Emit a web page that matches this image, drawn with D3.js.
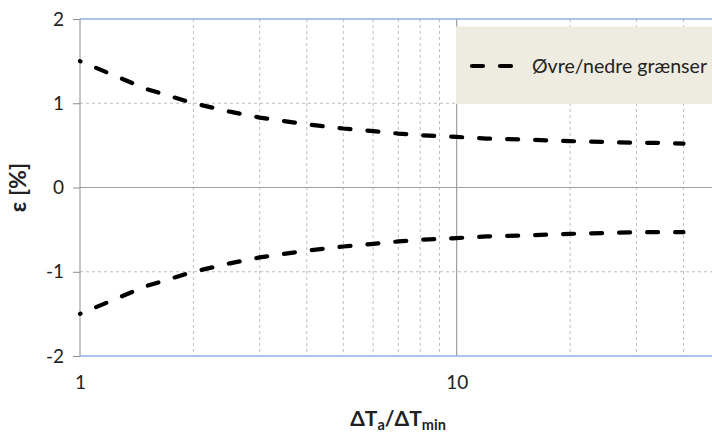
<!DOCTYPE html>
<html><head><meta charset="utf-8">
<script src="https://cdn.jsdelivr.net/npm/d3@7"></script>
<style>body{margin:0;background:#fff}svg{display:block;font-family:Lato,"Open Sans",sans-serif}</style>
</head><body>
<svg id="c" width="712" height="436"></svg>
<script>
const xValues = [1, 1.5, 2, 2.5, 3, 4, 5, 6, 7, 8, 9, 10, 12, 15, 20, 25, 30, 35, 40];
const upper = [1.50, 1.17, 1.00, 0.90, 0.83, 0.75, 0.70, 0.67, 0.64, 0.62, 0.61, 0.60, 0.58, 0.57, 0.55, 0.54, 0.53, 0.53, 0.52];
const lower = [-1.50, -1.17, -1.00, -0.90, -0.83, -0.75, -0.70, -0.67, -0.64, -0.62, -0.61, -0.60, -0.58, -0.57, -0.55, -0.54, -0.53, -0.53, -0.53];
const yTicks = [-2, -1, 0, 1, 2];
const xMajor = [1, 10, 100];
const xMinor = [2,3,4,5,6,7,8,9,20,30,40,50,60,70,80,90];
const xTickLabels = [1, 10];
const legendLabel = "Øvre/nedre grænser";

const svg = d3.select("#c");
const x = d3.scaleLog().domain([1, 100]).range([80, 833.4]);
const y = d3.scaleLinear().domain([-2, 2]).range([356, 19]);
const left = 80, right = 712;
const fmt = d => String(d);

const g = svg.append("g");
g.selectAll(".vmin").data(xMinor).join("line")
  .attr("x1", d => x(d)).attr("x2", d => x(d)).attr("y1", y(2)).attr("y2", y(-2))
  .attr("stroke", "#bdbdbd").attr("stroke-width", 1).attr("stroke-dasharray", "3,3");
g.selectAll(".vmaj").data(xMajor.filter(d => d > 1)).join("line")
  .attr("x1", d => x(d)).attr("x2", d => x(d)).attr("y1", y(2)).attr("y2", y(-2))
  .attr("stroke", "#8c8c8c").attr("stroke-width", 1);
g.selectAll(".hg").data(yTicks.filter(d => d === 1 || d === -1)).join("line")
  .attr("x1", left).attr("x2", right).attr("y1", d => y(d)).attr("y2", d => y(d))
  .attr("stroke", "#bdbdbd").attr("stroke-width", 1).attr("stroke-dasharray", "3,3");
g.append("line").attr("x1", left).attr("x2", right).attr("y1", y(0)).attr("y2", y(0))
  .attr("stroke", "#a0a0a0").attr("stroke-width", 1);
g.selectAll(".hb").data([2, -2]).join("line")
  .attr("x1", left).attr("x2", right).attr("y1", d => y(d)).attr("y2", d => y(d))
  .attr("stroke", "#8db3e2").attr("stroke-width", 1.5);

const yAxis = d3.axisLeft(y).tickValues(yTicks).tickSize(7).tickPadding(9).tickFormat(fmt);
const ya = svg.append("g").attr("transform", `translate(${left},0)`).call(yAxis);
ya.select(".domain").attr("stroke", "#8c8c8c").attr("d", `M0,${y(2)}V${y(-2)}`);
ya.selectAll(".tick line").attr("stroke", "#8c8c8c");
ya.selectAll(".tick text").attr("font-size", 19).attr("fill", "#222").attr("font-family", "Lato,sans-serif");

const xAxis = d3.axisBottom(x).tickValues(xTickLabels).tickSize(0).tickPadding(20).tickFormat(fmt);
const xa = svg.append("g").attr("transform", `translate(0,${y(-2)})`).call(xAxis);
xa.select(".domain").remove();
xa.selectAll(".tick text").attr("font-size", 19).attr("fill", "#222").attr("font-family", "Lato,sans-serif");

const line = d3.line().x((d, i) => x(xValues[i])).y(d => y(d));
[upper, lower].forEach(s => {
  svg.append("path").datum(s).attr("d", line)
    .attr("fill", "none").attr("stroke", "#000").attr("stroke-width", 4.2)
    .attr("stroke-linecap", "round").attr("stroke-dasharray", "11,17").attr("stroke-dashoffset", 10.5);
});

const lg = svg.append("g");
lg.append("rect").attr("x", 456).attr("y", 26.5).attr("width", 270).attr("height", 77.5).attr("fill", "#eeece1");
lg.append("line").attr("x1", 472).attr("x2", 513).attr("y1", 66).attr("y2", 66)
  .attr("stroke", "#000").attr("stroke-width", 4.2).attr("stroke-linecap", "round").attr("stroke-dasharray", "11,17");
lg.append("text").attr("x", 532).attr("y", 73).attr("font-size", 20).attr("fill", "#222")
  .attr("textLength", 175).attr("lengthAdjust", "spacingAndGlyphs").text(legendLabel);

const xt = svg.append("text").attr("x", 398).attr("y", 426).attr("text-anchor", "middle")
  .attr("font-size", 21).attr("font-weight", "bold").attr("fill", "#222");
xt.append("tspan").text("ΔT");
xt.append("tspan").attr("font-size", 14.5).attr("dy", 4).text("a");
xt.append("tspan").attr("dy", -4).text("/ΔT");
xt.append("tspan").attr("font-size", 14.5).attr("dy", 4).text("min");

svg.append("text").attr("transform", `translate(26,${y(0)}) rotate(-90)`).attr("text-anchor", "middle")
  .attr("font-size", 23).attr("font-weight", "bold").attr("fill", "#222").text("ε [%]");
</script>
</body></html>
